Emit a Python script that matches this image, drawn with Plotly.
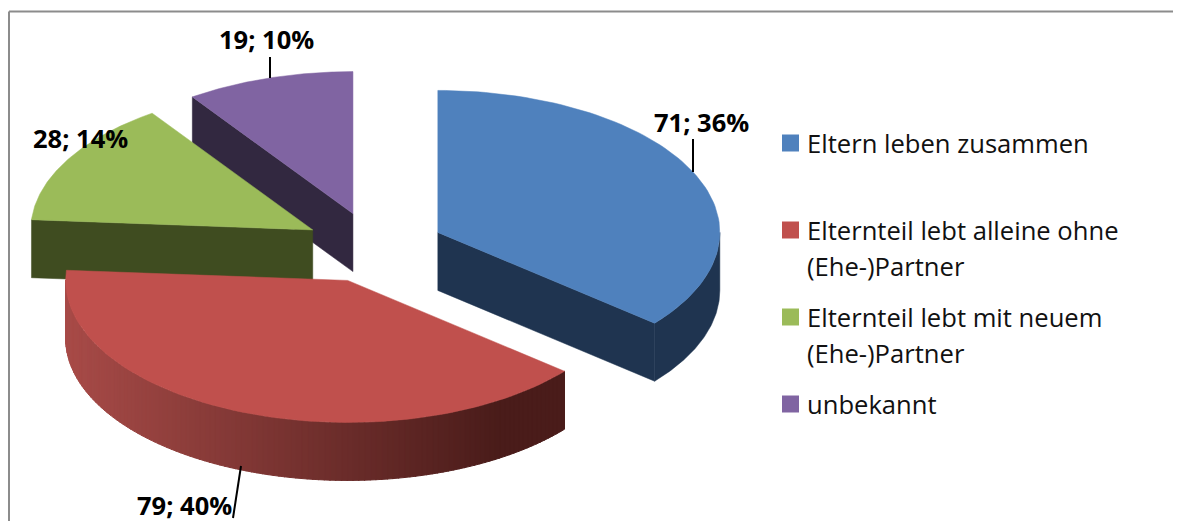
import math
import plotly.graph_objects as go

categories = ["Eltern leben zusammen", "Elternteil lebt alleine ohne<br>(Ehe-)Partner",
              "Elternteil lebt mit neuem<br>(Ehe-)Partner", "unbekannt"]
values = [71, 79, 28, 19]
top_colors = ["#4F81BD", "#C0504D", "#9BBB59", "#8064A2"]
face_colors = ["#1F3450", "#4E1F1D", "#3F4C20", "#322840"]
legend_y = [143, 230, 317, 404]
label_pos = [(701, 122), (184, 505), (80, 138), (266, 39)]
leader_lines = [((693, 139), (693, 172)), ((241, 466), (233, 518)), None, ((270, 57), (270, 78))]

CX, CY, RX, RY, DEPTH, PULL = 374, 247.5, 282, 142, 58, 0.25
W, H = 1181, 521
OFFSET = 8  # the page's own margin around the figure
LEGEND_SWATCH_X, LEGEND_TEXT_X = 790.5, 804.5
LEGEND_LINE_GAP = 36


def rim(c, t):
    return (c[0] + RX * math.sin(t), c[1] - RY * math.cos(t))


def arc(c, t0, t1, n=80):
    return [rim(c, t0 + (t1 - t0) * i / n) for i in range(n + 1)]


def mix(a, b, f):
    ca = [int(a[i:i + 2], 16) for i in (1, 3, 5)]
    cb = [int(b[i:i + 2], 16) for i in (1, 3, 5)]
    return "rgb(%d,%d,%d)" % tuple(round(x + (y - x) * f) for x, y in zip(ca, cb))


fig = go.Figure()


def poly(pts, color, name=None, lw=0.5):
    fig.add_trace(go.Scatter(x=[p[0] for p in pts] + [pts[0][0]], y=[p[1] for p in pts] + [pts[0][1]],
                             mode="lines", fill="toself", fillcolor=color, line=dict(color=color, width=lw),
                             showlegend=False, hoverinfo="text" if name else "skip", text=name))


def down(pts):
    return [(x, y + DEPTH) for x, y in pts]


total = sum(values)
spans, start = [], 0.0
for v in values:
    a = 2 * math.pi * v / total
    spans.append((start, start + a))
    start += a

centres = []
for t0, t1 in spans:
    m = (t0 + t1) / 2
    centres.append((CX + PULL * RX * math.sin(m), CY - PULL * RY * math.cos(m)))

# back-to-front: purple, blue, green, red
for i in [3, 0, 2, 1]:
    t0, t1 = spans[i]
    c = centres[i]
    if i == 0:
        e = rim(c, t1)
        poly([c, e, (e[0], e[1] + DEPTH), (c[0], c[1] + DEPTH)], face_colors[0])
        top = arc(c, math.pi / 2, t1)
        poly(top + down(top)[::-1], face_colors[0])
    elif i == 1:
        steps = 120
        lo, hi = t0, 1.5 * math.pi
        for k in range(steps):
            a0 = lo + (hi - lo) * k / steps
            a1 = lo + (hi - lo) * (k + 1) / steps + 0.003
            seg = arc(c, a0, a1, 3)
            xf = (rim(c, a0)[0] - (c[0] - RX)) / (2 * RX * 0.77)
            col = mix("#A84B48", "#4A1C1A", min(1, max(0, xf)))
            poly(seg + down(seg)[::-1], col, lw=1)
    else:
        e = rim(c, t0)
        poly([c, e, (e[0], e[1] + DEPTH), (c[0], c[1] + DEPTH)], face_colors[i])
    poly([c] + arc(c, t0, t1), top_colors[i], "%s: %d" % (categories[i].replace("<br>", " "), values[i]))

fig.add_trace(go.Scatter(x=[LEGEND_SWATCH_X] * 4, y=legend_y, mode="markers",
                         marker=dict(symbol="square", size=17, color=top_colors), showlegend=False, hoverinfo="skip"))

ann = []
for name, y in zip(categories, legend_y):
    for j, line in enumerate(name.split("<br>")):
        ann.append(dict(x=LEGEND_TEXT_X, y=y + j * LEGEND_LINE_GAP, text=line, xanchor="left", yanchor="middle",
                        showarrow=False, font=dict(family="Open Sans", size=25.6, color="#111111")))
for v, (x, y) in zip(values, label_pos):
    ann.append(dict(x=x, y=y, text="%d; %d%%" % (v, round(100 * v / total)), showarrow=False,
                    font=dict(family="Open Sans", size=25.5, color="#000000", weight="bold")))

shapes = [dict(type="line", x0=9, x1=W, y0=11.5, y1=11.5, line=dict(color="#8C8C8C", width=2)),
          dict(type="line", x0=9, x1=9, y0=11.5, y1=H, line=dict(color="#8C8C8C", width=2))]
for seg in leader_lines:
    if seg:
        shapes.append(dict(type="line", x0=seg[0][0], y0=seg[0][1], x1=seg[1][0], y1=seg[1][1],
                           line=dict(color="#000000", width=2)))

fig.update_layout(width=W - OFFSET, height=H - OFFSET, margin=dict(l=0, r=0, t=0, b=0),
                  paper_bgcolor="white", plot_bgcolor="white",
                  xaxis=dict(range=[OFFSET, W], visible=False, fixedrange=True),
                  yaxis=dict(range=[H, OFFSET], visible=False, fixedrange=True),
                  annotations=ann, shapes=shapes, showlegend=False, hovermode="closest")
fig.write_html("out.html", config={"displayModeBar": False})
